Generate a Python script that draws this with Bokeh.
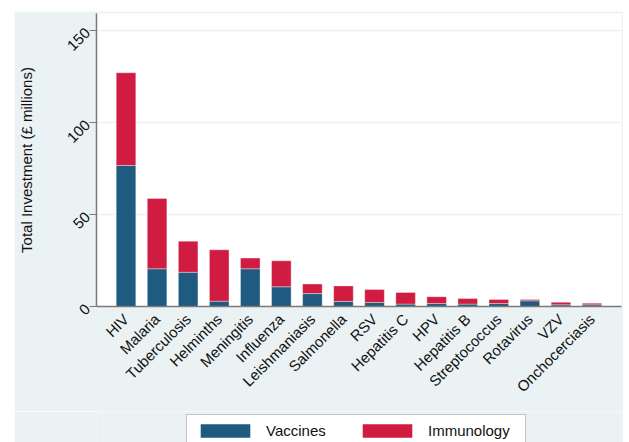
import math
from bokeh.plotting import figure
from bokeh.layouts import column
from bokeh.models import FactorRange, Range1d, Legend, LegendItem, ColumnDataSource
from bokeh.embed import file_html
from bokeh.resources import INLINE

diseases = ["HIV", "Malaria", "Tuberculosis", "Helminths", "Meningitis", "Influenza",
            "Leishmaniasis", "Salmonella", "RSV", "Hepatitis C", "HPV", "Hepatitis B",
            "Streptococcus", "Rotavirus", "VZV", "Onchocerciasis"]
vaccines = [76.6, 20.5, 18.6, 2.9, 20.5, 10.7, 7.0, 2.7, 2.2, 1.3, 1.6, 1.3, 1.6, 3.1, 0.9, 0.9]
immunology = [50.4, 38.2, 16.9, 27.9, 5.8, 14.1, 5.2, 8.5, 7.0, 6.3, 3.7, 3.0, 2.2, 0.7, 1.4, 0.9]
series = ["Vaccines", "Immunology"]
y_ticks = [0, 50, 100, 150]

BLUE = "#1f5a80"
RED = "#d01c40"
BG = "#eaf2f3"
FONT = "Liberation Sans"

src = ColumnDataSource(data=dict(disease=diseases, Vaccines=vaccines, Immunology=immunology))

p = figure(width=609, height=400, output_backend="svg", toolbar_location=None,
           x_range=FactorRange(*diseases, range_padding=0.45, range_padding_units="absolute"),
           y_range=Range1d(0, 159.2),
           min_border_left=82, min_border_top=2, min_border_right=2, min_border_bottom=105,
           background_fill_color="white", border_fill_color=BG,
           margin=(11, 0, 0, 14))
p.outline_line_color = None

p.vbar_stack(series, x="disease", width=0.63, source=src,
             color=[BLUE, RED], line_color="white", line_alpha=0.35, line_width=1)

p.yaxis.ticker = y_ticks
p.yaxis.major_label_orientation = math.pi / 4
p.xaxis.major_label_orientation = math.pi / 4
for ax in (p.xaxis[0], p.yaxis[0]):
    ax.major_label_text_font = FONT
    ax.major_label_text_font_size = "15px"
    ax.major_label_text_color = "#111111"
    ax.axis_line_color = "#7a7a7a"
    ax.axis_line_width = 1.5
    ax.minor_tick_line_color = None
p.yaxis.major_tick_line_color = "#7a7a7a"
p.yaxis.major_tick_out = 7
p.yaxis.major_tick_in = 0
p.yaxis.major_label_standoff = 2
p.xaxis.major_tick_line_color = None
p.xaxis.major_label_standoff = 4
p.yaxis.axis_label = "Total Investment (£ millions)"
p.yaxis.axis_label_text_font = FONT
p.yaxis.axis_label_text_font_size = "15px"
p.yaxis.axis_label_text_font_style = "normal"
p.yaxis.axis_label_text_color = "#111111"
p.yaxis.axis_label_standoff = 25

p.xgrid.grid_line_color = None
p.ygrid.grid_line_color = BG
p.ygrid.grid_line_width = 1.5

# legend strip below the chart (its own small figure; bars there are out of view)
p2 = figure(width=609, height=31, output_backend="svg", toolbar_location=None,
            x_range=FactorRange(*diseases), y_range=Range1d(1000, 1001),
            min_border=0, background_fill_color=BG, border_fill_color=BG,
            margin=(0, 0, 0, 14))
p2.outline_line_color = None
p2.axis.visible = False
p2.grid.grid_line_color = None
rs2 = p2.vbar_stack(series, x="disease", width=0.63, source=src,
                    color=[BLUE, RED], line_color=None)

legend = Legend(items=[LegendItem(label=s, renderers=[r]) for s, r in zip(series, rs2)],
                orientation="horizontal", location=(90, -5),
                glyph_width=62, glyph_height=17, label_standoff=10, label_width=90,
                spacing=0, padding=7, margin=0,
                label_text_font=FONT, label_text_font_size="15px", label_text_color="#111111",
                border_line_color="#888888", border_line_width=1,
                background_fill_color="white", background_fill_alpha=1)
p2.add_layout(legend, "center")

layout = column(p, p2, spacing=0)
open("out.html", "w").write(file_html(layout, INLINE))
